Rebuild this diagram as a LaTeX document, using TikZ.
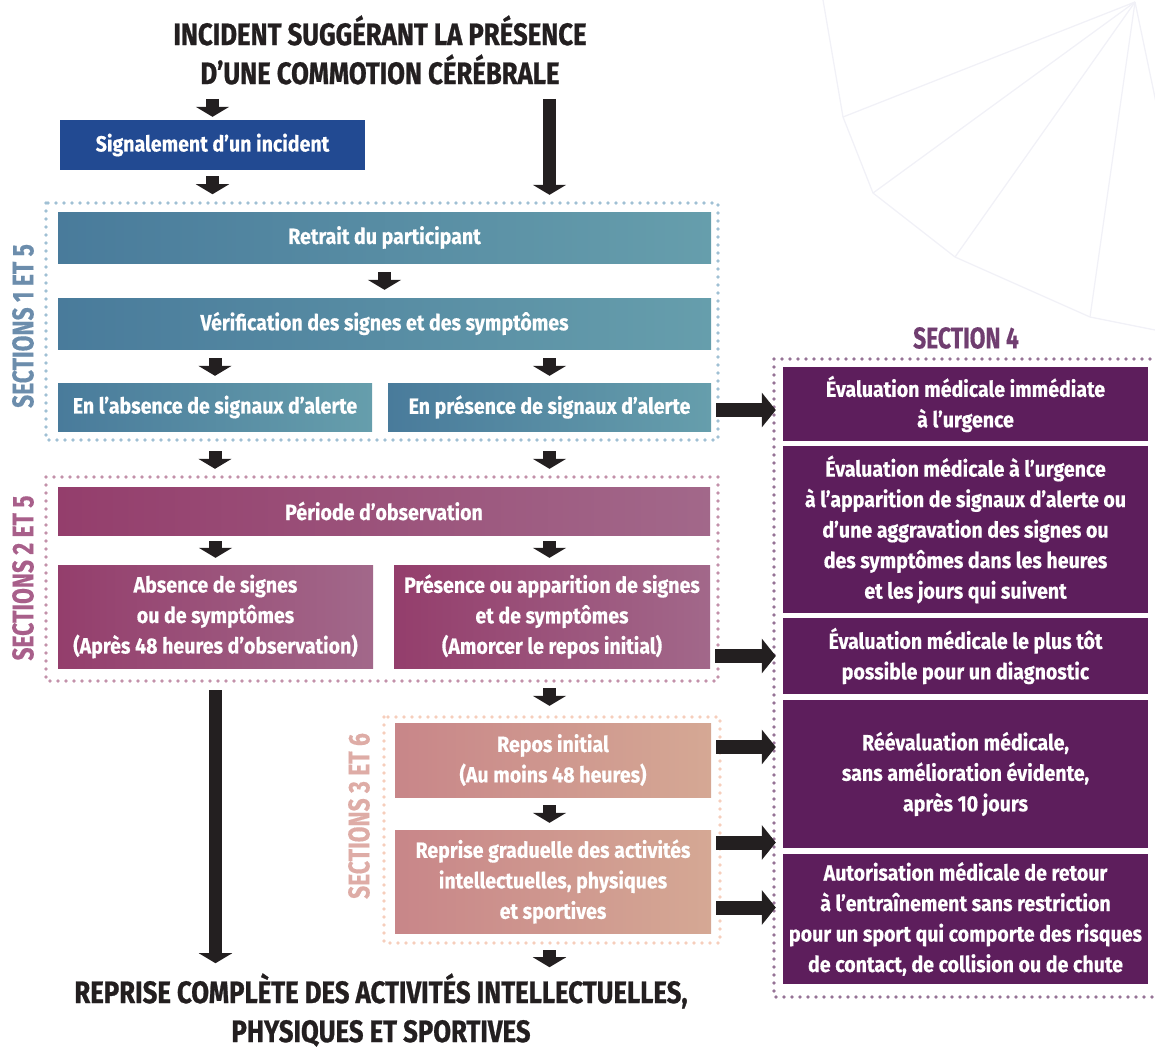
\documentclass[tikz,border=0pt]{standalone}
\usepackage{fontspec}
\newfontfamily\cf{Fira Sans}[FakeStretch=0.89, FakeBold=0.5]
\newfontfamily\tf{Fira Sans}[FakeStretch=0.83, FakeBold=0.8]
\newfontfamily\lf{Fira Sans}[FakeStretch=0.76, FakeBold=0.4]
\usetikzlibrary{arrows.meta,calc}
\definecolor{ink}{RGB}{35,31,32}
\definecolor{bluebox}{RGB}{34,74,146}
\definecolor{tealA}{RGB}{73,123,155}
\definecolor{tealB}{RGB}{102,158,172}
\definecolor{pinkA}{RGB}{148,62,108}
\definecolor{pinkB}{RGB}{162,104,138}
\definecolor{salA}{RGB}{200,134,137}
\definecolor{salB}{RGB}{213,168,148}
\definecolor{purp}{RGB}{93,30,92}
\definecolor{dotblue}{RGB}{160,192,212}
\definecolor{dotpink}{RGB}{195,145,170}
\definecolor{dotsal}{RGB}{246,206,188}
\definecolor{dotpurp}{RGB}{150,115,150}
\definecolor{lab1}{RGB}{108,141,172}
\definecolor{lab2}{RGB}{168,95,138}
\definecolor{lab3}{RGB}{222,172,166}
\definecolor{lab4}{RGB}{112,62,112}
\definecolor{ray}{RGB}{241,241,247}
\tikzset{
  box/.style={rectangle, inner sep=0pt, align=center, text=white,
    font=\cf\bfseries\fontsize{22}{30.5}\selectfont},
  bluefill/.style={box, fill=bluebox},
  tealfill/.style={box, left color=tealA, right color=tealB},
  pinkfill/.style={box, left color=pinkA, right color=pinkB},
  salfill/.style={box, left color=salA, right color=salB},
  purpfill/.style={box, fill=purp},
  dotframe/.style={line width=3.6pt, line cap=round, dash pattern=on 0pt off 8pt},
  arr/.style={draw=ink, line width=13pt, -{Triangle[width=33pt,length=10pt]}},
  rarr/.style={draw=ink, line width=14pt, -{Triangle[width=34pt,length=14pt]}},
  bigtitle/.style={align=center, inner sep=0pt, text=ink, font=\tf\bfseries\fontsize{31}{39}\selectfont},
  sidelab/.style={font=\lf\bfseries\fontsize{30}{30}\selectfont, rotate=90},
  raystyle/.style={draw=ray, line width=1.3pt}
}
\begin{document}
\begin{tikzpicture}[x=1pt,y=-1pt]
\useasboundingbox (0,0) rectangle (1155,1050);
% background decoration
\draw[raystyle] (823,0) -- (843,117) -- (873,193) -- (955,257) -- (1090,317) -- (1160,331);
\draw[raystyle] (1135,2) -- (843,117);
\draw[raystyle] (1135,2) -- (873,193);
\draw[raystyle] (1135,2) -- (955,257);
\draw[raystyle] (1135,2) -- (1090,317);
\draw[raystyle] (1135,2) -- (1158,112);

% titles
\node[bigtitle] (top) at (380,50) {INCIDENT SUGGÉRANT LA PRÉSENCE\\D’UNE COMMOTION CÉRÉBRALE};
\node[bigtitle] (bottom) at (381,1010) {REPRISE COMPLÈTE DES ACTIVITÉS INTELLECTUELLES,\\PHYSIQUES ET SPORTIVES};

% dotted frames
\draw[dotframe, draw=dotblue] (46,203) rectangle (718,440);
\draw[dotframe, draw=dotpink] (46,477) rectangle (718,681);
\draw[dotframe, draw=dotsal] (384,717) rectangle (720,943);
\draw[dotframe, draw=dotpurp] (1158,359) -- (774,359) -- (774,997) -- (1158,997);

% side labels
\node[sidelab, text=lab1] (s1) at (23,326) {SECTIONS 1 ET 5};
\node[sidelab, text=lab2] (s2) at (23,578) {SECTIONS 2 ET 5};
\node[sidelab, text=lab3] (s3) at (359,816) {SECTIONS 3 ET 6};
\node[font=\lf\bfseries\fontsize{30}{30}\selectfont, text=lab4] (s4) at (966,338) {SECTION 4};

% boxes
\node[bluefill, minimum width=305pt, minimum height=50pt] (sig) at (212.5,145) {Signalement d’un incident};
\node[tealfill, minimum width=653pt, minimum height=51pt] (ret) at (384.5,237.5) {Retrait du participant};
\node[tealfill, minimum width=653pt, minimum height=51pt] (ver) at (384.5,323.5) {Vérification des signes et des symptômes};
\node[tealfill, minimum width=314pt, minimum height=48pt] (abs) at (215,407) {En l’absence de signaux d’alerte};
\node[tealfill, minimum width=323pt, minimum height=48pt] (pres) at (549.5,407) {En présence de signaux d’alerte};
\node[pinkfill, minimum width=652pt, minimum height=48pt] (per) at (384,511) {Période d’observation};
\node[pinkfill, minimum width=315pt, minimum height=103pt] (abs2) at (215.5,616.5) {Absence de signes\\ou de symptômes\\(Après 48 heures d’observation)};
\node[pinkfill, minimum width=316pt, minimum height=103pt] (pres2) at (552,616.5) {Présence ou apparition de signes\\et de symptômes\\(Amorcer le repos initial)};
\node[salfill, minimum width=316pt, minimum height=74pt] (repos) at (553,760) {Repos initial\\(Au moins 48 heures)};
\node[salfill, minimum width=316pt, minimum height=103pt] (repr) at (553,881.5) {Reprise graduelle des activités\\intellectuelles, physiques\\et sportives};
\node[purpfill, minimum width=365pt, minimum height=74pt] (p1) at (965.5,404) {Évaluation médicale immédiate\\à l’urgence};
\node[purpfill, minimum width=365pt, minimum height=167pt] (p2) at (965.5,529.5) {Évaluation médicale à l’urgence\\à l’apparition de signaux d’alerte ou\\d’une aggravation des signes ou\\des symptômes dans les heures\\et les jours qui suivent};
\node[purpfill, minimum width=365pt, minimum height=76pt] (p3) at (965.5,656) {Évaluation médicale le plus tôt\\possible pour un diagnostic};
\node[purpfill, minimum width=365pt, minimum height=148pt] (p4) at (965.5,774) {Réévaluation médicale,\\sans amélioration évidente,\\après 10 jours};
\node[purpfill, minimum width=365pt, minimum height=130pt] (p5) at (965.5,919) {Autorisation médicale de retour\\à l’entraînement sans restriction\\pour un sport qui comporte des risques\\de contact, de collision ou de chute};

% vertical connectors
\draw[arr] ([yshift=21pt]sig.north) -- ([yshift=3pt]sig.north);
\draw[arr] ([yshift=-6pt]sig.south) -- ([yshift=-24pt]sig.south);
\draw[arr] ([yshift=113pt]ret.north -| pres.north) -- ([yshift=17pt]ret.north -| pres.north);
\draw[arr] ([yshift=-9pt]ret.south) -- ([yshift=8pt]ver.north);
\draw[arr] ([yshift=-9pt]ver.south -| abs.north) -- ([yshift=7pt]abs.north);
\draw[arr] ([yshift=-9pt]ver.south -| pres.north) -- ([yshift=7pt]pres.north);
\draw[arr] ([yshift=-20pt]abs.south) -- ([yshift=18pt]per.north -| abs.south);
\draw[arr] ([yshift=-20pt]pres.south) -- ([yshift=18pt]per.north -| pres.south);
\draw[arr] ([yshift=-6pt]per.south -| abs2.north) -- ([yshift=7pt]abs2.north);
\draw[arr] ([yshift=-6pt]per.south -| pres.south) -- ([yshift=7pt]abs2.north -| pres.south);
\draw[arr] ([yshift=-22pt]abs2.south) -- ([yshift=10pt]bottom.north -| abs2.south);
\draw[arr] ([yshift=-20pt]pres2.south -| pres.south) -- ([yshift=17pt]repos.north -| pres.south);
\draw[arr] ([yshift=-8pt]repos.south -| pres.south) -- ([yshift=7pt]repr.north -| pres.south);
\draw[arr] ([yshift=-17pt]repr.south -| pres.south) -- ([yshift=-34pt]repr.south -| pres.south);

% horizontal connectors
\draw[rarr, shorten >=7pt] ([xshift=5pt,yshift=-3pt]pres.east) -- ([yshift=-3pt]pres.east -| p1.west);
\draw[rarr, shorten >=7pt] ([xshift=5pt]pres2.east |- p3.west) -- (p3.west);
\draw[rarr, shorten >=7pt] ([xshift=5pt,yshift=13pt]repos.east) -- ([yshift=13pt]repos.east -| p4.west);
\draw[rarr, shorten >=7pt] ([xshift=5pt,yshift=39pt]repr.east) -- ([yshift=39pt]repr.east -| p4.west);
\draw[rarr, shorten >=7pt] ([xshift=5pt,yshift=-26pt]repr.east) -- ([yshift=-26pt]repr.east -| p5.west);
\end{tikzpicture}
\end{document}
